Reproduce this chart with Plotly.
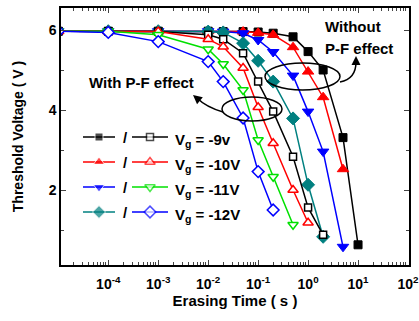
import plotly.graph_objects as go
import math

# ---------------- data ----------------
T = [1e-5, 1e-4, 1e-3, 1e-2, 2e-2, 5e-2, 0.1, 0.2, 0.5, 1, 2, 5, 10]

vt_9_nopf = [5.97, 5.97, 5.97, 5.97, 5.96, 5.96, 5.95, 5.92, 5.83, 5.46, 5.00, 3.31, 0.63]
vt_10_nopf = [5.97, 5.97, 5.97, 5.97, 5.97, 5.96, 5.93, 5.88, 5.57, 4.96, 4.32, 2.52]
vt_11_nopf = [5.97, 5.97, 5.97, 5.97, 5.96, 5.92, 5.75, 5.45, 4.86, 3.96, 2.96, 0.58]
vt_12_nopf = [5.97, 5.97, 5.97, 5.96, 5.94, 5.67, 5.23, 4.71, 3.79, 2.13, 0.83]

vt_9_pf = [5.97, 5.97, 5.96, 5.88, 5.77, 5.42, 4.71, 3.96, 2.83, 1.56, 0.88]
vt_10_pf = [5.97, 5.97, 5.96, 5.77, 5.58, 5.05, 4.07, 3.17, 2.00, 1.18]
vt_11_pf = [5.97, 5.97, 5.88, 5.52, 5.15, 4.50, 3.25, 2.33, 1.13]
vt_12_pf = [5.97, 5.94, 5.71, 5.21, 4.71, 3.80, 2.46, 1.50]

legend_labels = ["-9v", "-10V", "-11V", "-12V"]
x_tickvals = [1e-4, 1e-3, 1e-2, 1e-1, 1e0, 1e1, 1e2]
x_ticktext = ["10<sup>-4</sup>", "10<sup>-3</sup>", "10<sup>-2</sup>", "10<sup>-1</sup>",
              "10<sup>0</sup>", "10<sup>1</sup>", "10<sup>2</sup>"]
y_tickvals = [2, 4, 6]

# ---------------- styles ----------------
FONT = "Liberation Sans, Arial, sans-serif"
filled = [
    (vt_9_nopf, "black", "square", 8),
    (vt_10_nopf, "#FF0000", "triangle-up", 10),
    (vt_11_nopf, "#0000FF", "triangle-down", 10),
    (vt_12_nopf, "#008080", "diamond", 10),
]
opened = [
    (vt_9_pf, "black", "square", 8),
    (vt_10_pf, "#FF0000", "triangle-up", 10),
    (vt_11_pf, "#00E000", "triangle-down", 10),
    (vt_12_pf, "#0000FF", "diamond", 10),
]

fig = go.Figure()
for vals, col, sym, sz in filled:
    fig.add_trace(go.Scatter(
        x=T[:len(vals)], y=vals, mode="lines+markers",
        line=dict(color=col, width=1.5),
        marker=dict(symbol=sym, size=sz, color=col, line=dict(color=col, width=1)),
        showlegend=False))
for vals, col, sym, sz in opened:
    fig.add_trace(go.Scatter(
        x=T[:len(vals)], y=vals, mode="lines+markers",
        line=dict(color=col, width=1.5),
        marker=dict(symbol=sym, size=sz - 1, color="white", line=dict(color=col, width=1.5)),
        showlegend=False))

# ---------------- custom legend (on pixel-scaled overlay axes) ----------------
PL, PR, PT, PB = 61, 409, 8, 265
row_y = [137, 162, 187, 212]
for i, (f, o) in enumerate(zip(filled, opened)):
    y = row_y[i]
    fig.add_trace(go.Scatter(x=[83, 99, 115], y=[y, y, y], xaxis="x2", yaxis="y2",
                             mode="lines+markers", line=dict(color=f[1], width=1.5),
                             marker=dict(symbol=f[2], size=[0, f[3], 0], color=f[1]),
                             showlegend=False, hoverinfo="skip"))
    fig.add_trace(go.Scatter(x=[132, 150, 168], y=[y, y, y], xaxis="x2", yaxis="y2",
                             mode="lines+markers", line=dict(color=o[1], width=1.5),
                             marker=dict(symbol=o[2], size=[0, o[3] - 1, 0], color="white",
                                         line=dict(color=o[1], width=1.5)),
                             showlegend=False, hoverinfo="skip"))

def px(x):
    return (x - PL) / (PR - PL)

def py(y):
    return (PB - y) / (PB - PT)

def txt(x, y, s, size, xanchor="center", yshift=0):
    return dict(x=px(x), y=py(y), xref="paper", yref="paper", text=s, showarrow=False,
                xanchor=xanchor, yanchor="middle", yshift=yshift,
                font=dict(family=FONT, size=size, color="black", weight="bold"))

annotations = []
for i, lab in enumerate(legend_labels):
    y = row_y[i]
    annotations.append(txt(125, y, "/", 15))
    annotations.append(txt(173, y, "V<sub>g</sub> = " + lab, 15, xanchor="left", yshift=-3))

annotations.append(txt(141, 82, "With P-F effect", 15))
annotations.append(txt(323, 27, "Without", 15, xanchor="left"))
annotations.append(txt(323, 48, "P-F effect", 15, xanchor="left"))
# arrow heads
annotations.append(dict(x=px(193), y=py(95), xref="paper", yref="paper", ax=6, ay=5,
                        showarrow=True, arrowhead=2, arrowsize=1.2, arrowwidth=1.5, arrowcolor="black", text=""))
annotations.append(dict(x=px(356), y=py(56), xref="paper", yref="paper", ax=0, ay=8,
                        showarrow=True, arrowhead=2, arrowsize=1.2, arrowwidth=1.5, arrowcolor="black", text=""))

shapes = [
    dict(type="circle", xref="paper", yref="paper", x0=px(265), x1=px(340), y0=py(63), y1=py(90),
         line=dict(color="black", width=1.5)),
    dict(type="circle", xref="paper", yref="paper", x0=px(222), x1=px(282), y0=py(97), y1=py(121),
         line=dict(color="black", width=1.5)),
    dict(type="path", xref="paper", yref="paper",
         path=f"M {px(223)},{py(112)} Q {px(206)},{py(107)} {px(197)},{py(98)}",
         line=dict(color="black", width=1.5)),
    dict(type="path", xref="paper", yref="paper",
         path=f"M {px(340)},{py(82)} Q {px(356)},{py(79)} {px(356)},{py(62)}",
         line=dict(color="black", width=1.5)),
]

minor_x = [k * 10.0 ** n for n in range(-5, 2) for k in range(2, 10)]

fig.update_layout(
    width=419, height=321,
    margin=dict(l=PL, r=419 - PR, t=PT, b=321 - PB, autoexpand=False),
    paper_bgcolor="white", plot_bgcolor="white",
    showlegend=False,
    font=dict(family=FONT, color="black"),
    annotations=annotations,
    shapes=shapes,
    xaxis=dict(type="log", range=[-4.946, 2.02], tickmode="array", tickvals=x_tickvals,
               ticktext=x_ticktext, ticks="inside", ticklen=5, tickwidth=1.2,
               minor=dict(tickvals=minor_x, ticks="inside", ticklen=3, tickwidth=1),
               showline=True, linecolor="black", linewidth=1.5, mirror="ticks",
               showgrid=False, zeroline=False, ticklabelstandoff=5,
               ticklabeloverflow="allow", automargin=False,
               tickfont=dict(family=FONT, size=14, weight="bold"),
               title=dict(text="Erasing Time ( s )", standoff=4,
                          font=dict(family=FONT, size=15, weight="bold"))),
    yaxis=dict(range=[0.125, 6.55], tickmode="array", tickvals=y_tickvals,
               ticks="inside", ticklen=5, tickwidth=1.2,
               minor=dict(tickvals=[1, 3, 5], ticks="inside", ticklen=3, tickwidth=1),
               showline=True, linecolor="black", linewidth=1.5, mirror="ticks",
               showgrid=False, zeroline=False,
               tickfont=dict(family=FONT, size=14, weight="bold"),
               title=dict(text="Threshold Voltage ( V )", standoff=22,
                          font=dict(family=FONT, size=14, weight="bold"))),
    xaxis2=dict(overlaying="x", range=[PL, PR], visible=False, fixedrange=True),
    yaxis2=dict(overlaying="y", range=[PB, PT], visible=False, fixedrange=True),
)

fig.write_html("out.html")
